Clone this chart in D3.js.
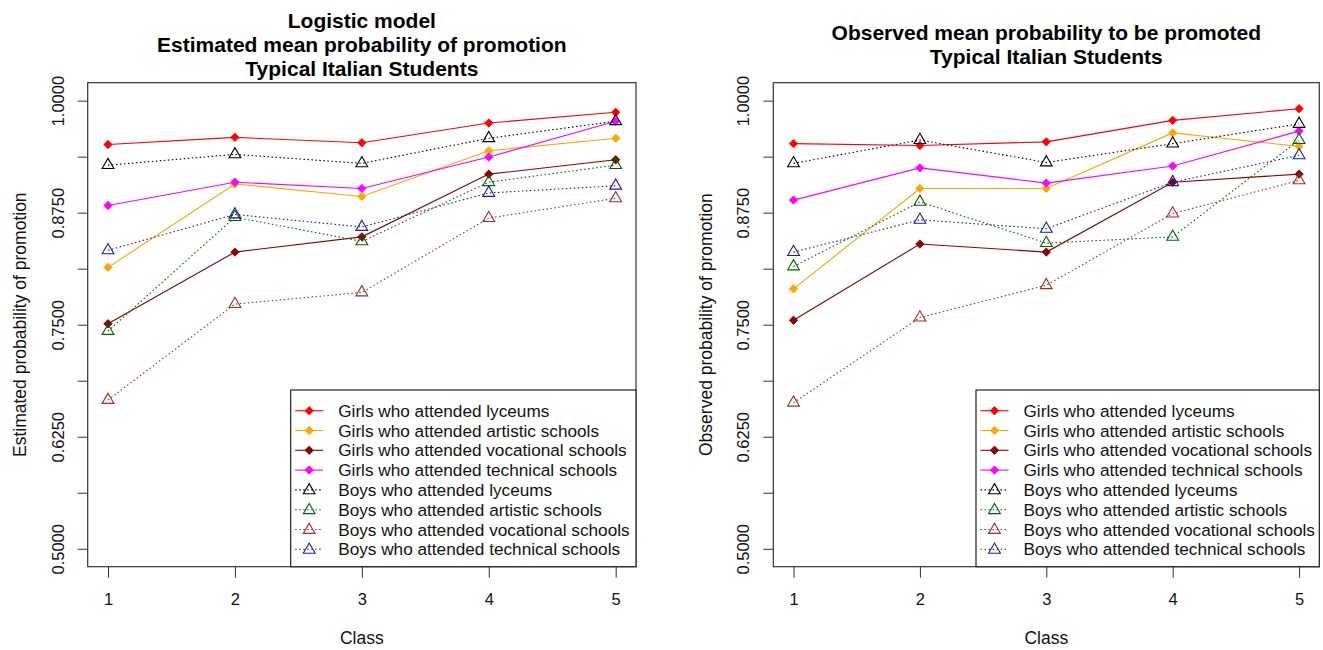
<!DOCTYPE html>
<html>
<head>
<meta charset="utf-8">
<script src="https://cdn.jsdelivr.net/npm/d3@7"></script>
<style>
  html, body { margin: 0; padding: 0; background: #fff; }
  svg { display: block; font-family: "Liberation Sans", Arial, sans-serif; }
</style>
</head>
<body>
<svg id="chart" width="1323" height="650"></svg>
<script>
// School class (year) on the x axis
const classes = [1, 2, 3, 4, 5];

// Y axis ticks; only every other tick gets a label
const yTicks = [0.5, 0.5625, 0.625, 0.6875, 0.75, 0.8125, 0.875, 0.9375, 1.0];
const yTickLabels = ["0.5000", "", "0.6250", "", "0.7500", "", "0.8750", "", "1.0000"];

// Group labels, in legend order
const groupNames = [
  "Girls who attended lyceums",
  "Girls who attended artistic schools",
  "Girls who attended vocational schools",
  "Girls who attended technical schools",
  "Boys who attended lyceums",
  "Boys who attended artistic schools",
  "Boys who attended vocational schools",
  "Boys who attended technical schools"
];
const groupColors = ["#ff0000", "#ffa500", "#8b0000", "#ff00ff", "#000000", "#006400", "#a52a2a", "#1c1ca0"];
const groupIsGirls = [true, true, true, true, false, false, false, false];

// Logistic model: estimated mean probability of promotion
const estGirlsLyceums   = [0.951, 0.959, 0.953, 0.975, 0.987];
const estGirlsArtistic  = [0.814, 0.907, 0.893, 0.944, 0.958];
const estGirlsVocational= [0.751, 0.831, 0.848, 0.918, 0.934];
const estGirlsTechnical = [0.883, 0.909, 0.902, 0.937, 0.977];
const estBoysLyceums    = [0.928, 0.940, 0.930, 0.958, 0.977];
const estBoysArtistic   = [0.743, 0.870, 0.843, 0.909, 0.928];
const estBoysVocational = [0.666, 0.773, 0.786, 0.869, 0.891];
const estBoysTechnical  = [0.833, 0.873, 0.859, 0.897, 0.905];

// Observed mean probability to be promoted
const obsGirlsLyceums   = [0.952, 0.950, 0.954, 0.978, 0.991];
const obsGirlsArtistic  = [0.790, 0.902, 0.902, 0.964, 0.949];
const obsGirlsVocational= [0.755, 0.840, 0.831, 0.909, 0.918];
const obsGirlsTechnical = [0.889, 0.925, 0.908, 0.927, 0.966];
const obsBoysLyceums    = [0.930, 0.956, 0.931, 0.952, 0.974];
const obsBoysArtistic   = [0.815, 0.887, 0.841, 0.848, 0.956];
const obsBoysVocational = [0.663, 0.758, 0.794, 0.874, 0.911];
const obsBoysTechnical  = [0.831, 0.867, 0.857, 0.909, 0.939];

const estSeries = [estGirlsLyceums, estGirlsArtistic, estGirlsVocational, estGirlsTechnical,
                   estBoysLyceums, estBoysArtistic, estBoysVocational, estBoysTechnical];
const obsSeries = [obsGirlsLyceums, obsGirlsArtistic, obsGirlsVocational, obsGirlsTechnical,
                   obsBoysLyceums, obsBoysArtistic, obsBoysVocational, obsBoysTechnical];

const svg = d3.select("#chart");

const panels = [
  {
    titles: ["Logistic model", "Estimated mean probability of promotion", "Typical Italian Students"],
    titleBaselines: [28, 52, 76],
    yLabel: "Estimated probability of promotion",
    series: estSeries,
    left: 87.7, right: 636, ylabX: 26,
    legendLeft: 290.7
  },
  {
    titles: ["Observed mean probability to be promoted", "Typical Italian Students"],
    titleBaselines: [40, 64],
    yLabel: "Observed probability of promotion",
    series: obsSeries,
    left: 773.3, right: 1319.3, ylabX: 712,
    legendLeft: 976
  }
];

const plotTop = 82.7, plotBottom = 566.7;

function drawMarker(g, isGirl, color, cx, cy) {
  if (isGirl) {
    const r = 4.2;
    g.append("path")
      .attr("d", `M${cx},${cy - r}L${cx + r},${cy}L${cx},${cy + r}L${cx - r},${cy}Z`)
      .attr("fill", color).attr("stroke", color).attr("stroke-width", 0.8);
  } else {
    const r = 6.8;
    const h = r * 0.866;
    g.append("path")
      .attr("d", `M${cx},${cy - r}L${cx + h},${cy + r / 2}L${cx - h},${cy + r / 2}Z`)
      .attr("fill", "none").attr("stroke", color).attr("stroke-width", 1.1);
  }
}

panels.forEach(p => {
  const x = d3.scaleLinear().domain([0.84, 5.16]).range([p.left, p.right]);
  const y = d3.scaleLinear().domain([0.48, 1.02]).range([plotBottom, plotTop]);
  const cx = (p.left + p.right) / 2;
  const g = svg.append("g");

  // titles
  p.titles.forEach((t, i) => {
    g.append("text").attr("x", cx).attr("y", p.titleBaselines[i])
      .attr("text-anchor", "middle").attr("font-weight", "bold")
      .attr("font-size", 21).attr("fill", "#000").text(t);
  });

  // x axis
  const xAxis = g.append("g").attr("transform", `translate(0,${plotBottom})`)
    .call(d3.axisBottom(x).tickValues(classes).tickSize(11).tickFormat(d3.format("d")));
  xAxis.select(".domain").remove();
  xAxis.selectAll(".tick line").attr("stroke", "#333");
  xAxis.selectAll(".tick text").attr("y", 38.5).attr("dy", 0)
    .attr("font-size", 16.5).attr("font-family", "Liberation Sans, Arial, sans-serif").attr("fill", "#111");

  // y axis with vertical labels
  const yAxis = g.append("g").attr("transform", `translate(${p.left},0)`)
    .call(d3.axisLeft(y).tickValues(yTicks).tickSize(10)
      .tickFormat((d, i) => yTickLabels[i]));
  yAxis.select(".domain").remove();
  yAxis.selectAll(".tick line").attr("stroke", "#333");
  yAxis.selectAll(".tick text")
    .attr("transform", "rotate(-90)")
    .attr("x", 0).attr("y", -24).attr("dy", 0)
    .attr("text-anchor", "middle")
    .attr("font-size", 16.5).attr("font-family", "Liberation Sans, Arial, sans-serif").attr("fill", "#111");

  // axis titles
  g.append("text").attr("x", cx).attr("y", 644)
    .attr("text-anchor", "middle").attr("font-size", 17.5).attr("fill", "#111").text("Class");
  g.append("text")
    .attr("transform", `translate(${p.ylabX},${(plotTop + plotBottom) / 2}) rotate(-90)`)
    .attr("text-anchor", "middle").attr("font-size", 17.5).attr("fill", "#111").text(p.yLabel);

  // series lines and markers
  const line = d3.line().x((d, i) => x(classes[i])).y(d => y(d));
  p.series.forEach((vals, k) => {
    const color = groupColors[k];
    const path = g.append("path").datum(vals).attr("d", line)
      .attr("fill", "none").attr("stroke", color).attr("stroke-width", 1.1);
    if (!groupIsGirls[k]) path.attr("stroke-dasharray", "1.5,2.5");
    vals.forEach((v, i) => drawMarker(g, groupIsGirls[k], color, x(classes[i]), y(v)));
  });

  // plot frame
  g.append("rect").attr("x", p.left).attr("y", plotTop)
    .attr("width", p.right - p.left).attr("height", plotBottom - plotTop)
    .attr("fill", "none").attr("stroke", "#333").attr("stroke-width", 1.2);

  // legend
  const lg = g.append("g");
  lg.append("rect").attr("x", p.legendLeft).attr("y", 390)
    .attr("width", p.right - p.legendLeft).attr("height", plotBottom - 390)
    .attr("fill", "#fff").attr("stroke", "#222").attr("stroke-width", 1.2);
  groupNames.forEach((name, k) => {
    const ry = 410.7 + k * 19.8;
    const color = groupColors[k];
    const l = lg.append("line")
      .attr("x1", p.legendLeft + 4.5).attr("x2", p.legendLeft + 32.5)
      .attr("y1", ry).attr("y2", ry)
      .attr("stroke", color).attr("stroke-width", 1.1);
    if (!groupIsGirls[k]) l.attr("stroke-dasharray", "1.5,2.5");
    drawMarker(lg, groupIsGirls[k], color, p.legendLeft + 18.5, ry + (groupIsGirls[k] ? 0 : 0.5));
    lg.append("text").attr("x", p.legendLeft + 47.5).attr("y", ry + 6)
      .attr("font-size", 17.2).attr("fill", "#111").text(name);
  });
});
</script>
</body>
</html>
